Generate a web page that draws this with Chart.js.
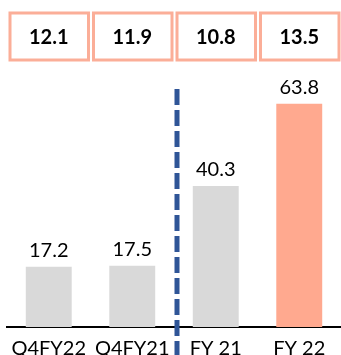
<!DOCTYPE html>
<html>
<head>
<meta charset="utf-8">
<script src="https://cdn.jsdelivr.net/npm/chart.js@4"></script>
<style>
  html, body { margin: 0; padding: 0; background: #fff; overflow: hidden; }
  #wrap { width: 341px; height: 355px; position: relative; }
</style>
</head>
<body>
<div id="wrap"><canvas id="chart" width="341" height="355"></canvas></div>
<script>
  const categories = ["Q4FY22", "Q4FY21", "FY 21", "FY 22"];
  const values = [17.2, 17.5, 40.3, 63.8];
  const boxValues = [12.1, 11.9, 10.8, 13.5];
  const barColors = ["#D9D9D9", "#D9D9D9", "#D9D9D9", "#FFA98F"];

  const FONT = "Lato, 'Open Sans', sans-serif";

  // value labels above each bar
  const valueLabels = {
    id: "valueLabels",
    afterDatasetsDraw(chart) {
      const ctx = chart.ctx;
      const meta = chart.getDatasetMeta(0);
      ctx.save();
      ctx.font = `20px ${FONT}`;
      ctx.fillStyle = "#000";
      ctx.textAlign = "center";
      ctx.textBaseline = "alphabetic";
      meta.data.forEach((bar, i) => {
        ctx.fillText(values[i].toFixed(1), bar.x, bar.y - 9.5);
      });
      ctx.restore();
    },
  };

  // boxed figures at the top + dashed separator
  const extras = {
    id: "extras",
    afterDraw(chart) {
      const ctx = chart.ctx;
      const x = chart.scales.x;
      const half = (x.getPixelForValue(1) - x.getPixelForValue(0)) / 2;
      ctx.save();
      boxValues.forEach((v, i) => {
        const cx = x.getPixelForValue(i);
        ctx.strokeStyle = "#FBAE98";
        ctx.lineWidth = 3;
        ctx.strokeRect(cx - half + 3, 13, half * 2 - 5, 47);
        ctx.font = `bold 20px ${FONT}`;
        ctx.fillStyle = "#000";
        ctx.textAlign = "center";
        ctx.textBaseline = "alphabetic";
        ctx.fillText(v.toFixed(1), cx, 44);
      });

      const sepX = (x.getPixelForValue(1) + x.getPixelForValue(2)) / 2 + 3;
      ctx.strokeStyle = "#2F5597";
      ctx.lineWidth = 5;
      ctx.setLineDash([16, 5]);
      ctx.beginPath();
      ctx.moveTo(sepX, 89);
      ctx.lineTo(sepX, 360);
      ctx.stroke();
      ctx.restore();
    },
  };

  new Chart(document.getElementById("chart"), {
    type: "bar",
    data: {
      labels: categories,
      datasets: [{
        data: values,
        backgroundColor: barColors,
        barPercentage: 0.55,
        categoryPercentage: 1,
      }],
    },
    options: {
      responsive: false,
      animation: false,
      layout: { padding: { top: 47, left: 7, right: 0, bottom: 0 } },
      plugins: { legend: { display: false }, tooltip: { enabled: false } },
      scales: {
        x: {
          grid: { display: false, drawTicks: false },
          border: { color: "#000", width: 2 },
          ticks: { color: "#000", font: { family: FONT, size: 20 }, padding: 10 },
          afterFit(scale) { scale.height = 28; },
        },
        y: { display: false, min: 0, max: 80 },
      },
    },
    plugins: [valueLabels, extras],
  });
</script>
</body>
</html>
